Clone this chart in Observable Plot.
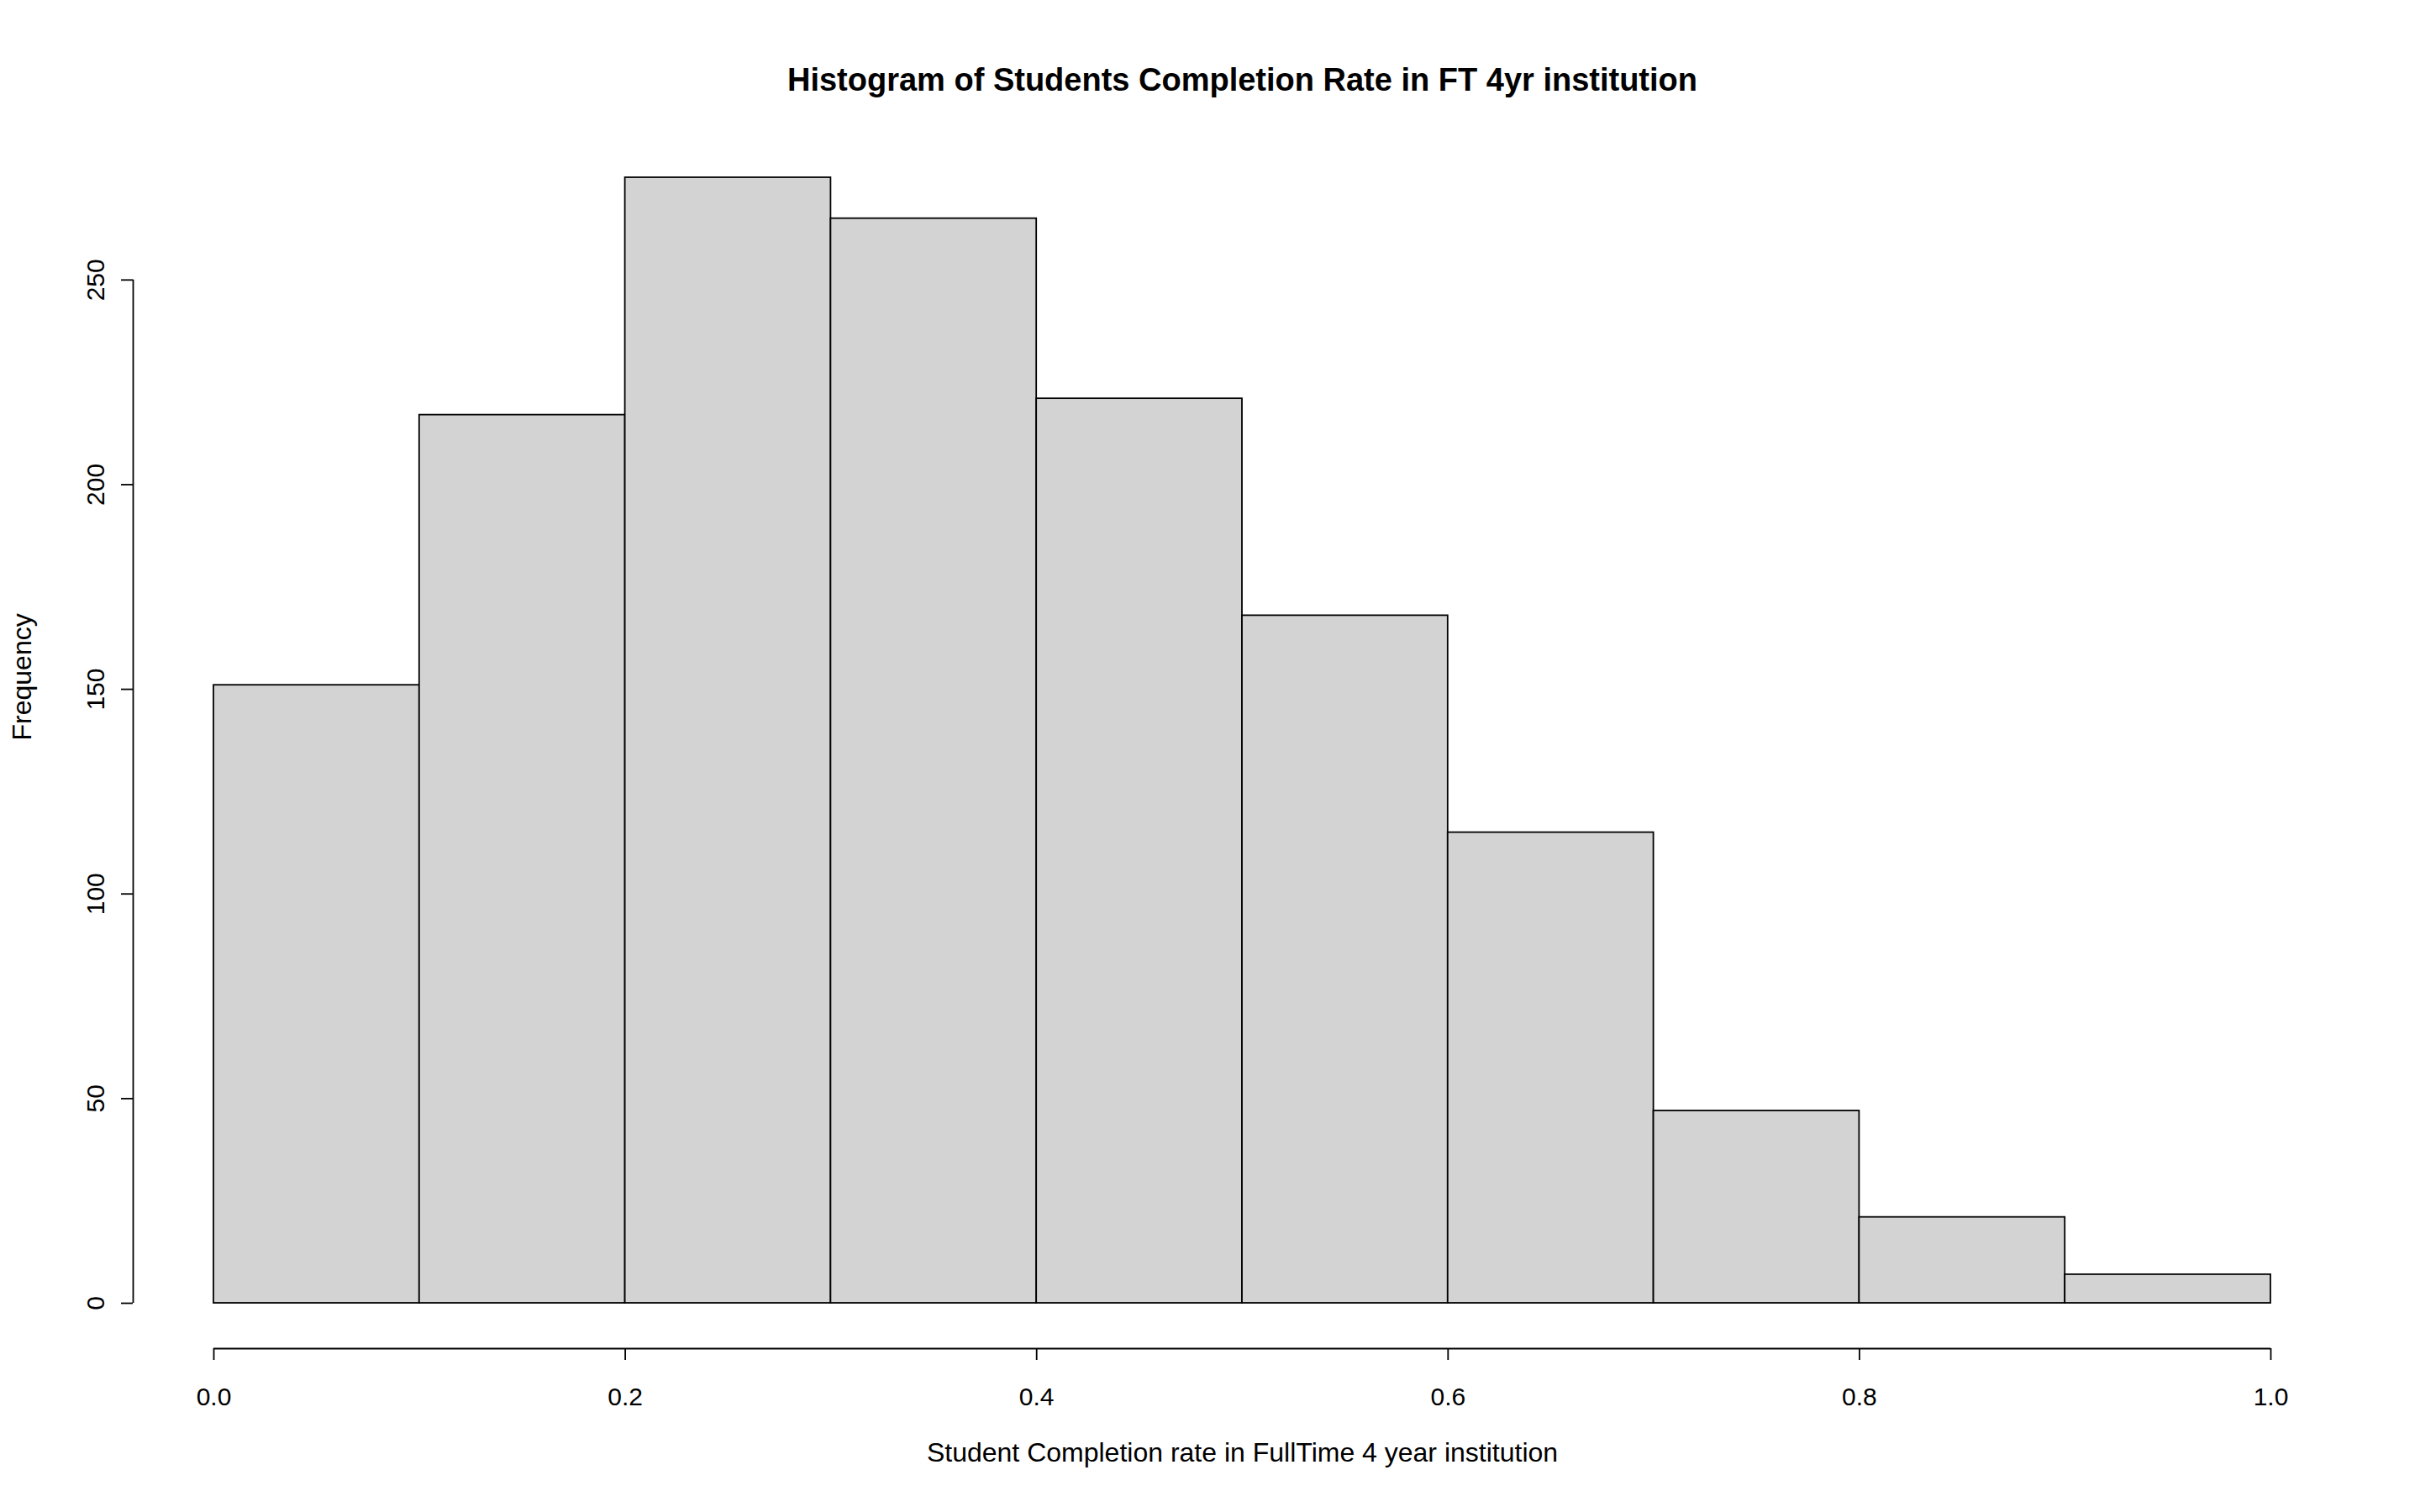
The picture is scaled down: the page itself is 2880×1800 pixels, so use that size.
<!DOCTYPE html>
<html>
<head>
<meta charset="utf-8">
<script src="https://cdn.jsdelivr.net/npm/d3@7"></script>
<script src="https://cdn.jsdelivr.net/npm/@observablehq/plot@0.6"></script>
<style>body{margin:0;background:#fff}</style>
</head>
<body>
<div id="chart"></div>
<script>
// bin edges and counts
const binStarts = [0, 0.1, 0.2, 0.3, 0.4, 0.5, 0.6, 0.7, 0.8, 0.9];
const counts = [151, 217, 275, 265, 221, 168, 115, 47, 21, 7];
const xTicks = [0, 0.2, 0.4, 0.6, 0.8, 1.0];
const yTicks = [0, 50, 100, 150, 200, 250];

const bins = binStarts.map((s, i) => ({x1: s, x2: +(s + 0.1).toFixed(1), count: counts[i]}));
const font = "Liberation Sans, Arial, sans-serif";

const chart = Plot.plot({
  width: 2880,
  height: 1800,
  marginLeft: 254,
  marginRight: 178,
  marginTop: 211,
  marginBottom: 249,
  style: {fontFamily: font, background: "white"},
  x: {domain: [0, 1]},
  y: {domain: [0, 275]},
  marks: [
    Plot.rectY(bins, {x1: "x1", x2: "x2", y: "count", fill: "#d3d3d3", stroke: "black", strokeWidth: 1.8}),
    // y axis, offset left like base R
    Plot.ruleX([0], {y1: 0, y2: 250, dx: -96, strokeWidth: 1.8}),
    Plot.axisY({ticks: yTicks, tickFormat: () => "", dx: -96, tickSize: 14, strokeWidth: 1.8, label: null}),
    Plot.text(yTicks, {x: 0, y: d => d, text: d => String(d), rotate: -90, dx: -140, fontSize: 30}),
    // x axis, offset below
    Plot.ruleY([0], {x1: 0, x2: 1, dy: 54, strokeWidth: 1.8}),
    Plot.axisX({ticks: xTicks, tickFormat: () => "", dy: 54, tickSize: 14, strokeWidth: 1.8, label: null}),
    Plot.text(xTicks, {x: d => d, y: 0, text: d => d.toFixed(1), dy: 112, fontSize: 30}),
    Plot.text(["Student Completion rate in FullTime 4 year institution"], {frameAnchor: "bottom", dy: 188, fontSize: 32}),
    Plot.text(["Frequency"], {frameAnchor: "left", dx: -228, rotate: -90, fontSize: 32}),
    Plot.text(["Histogram of Students Completion Rate in FT 4yr institution"], {frameAnchor: "top", dy: -130, fontSize: 38, fontWeight: "bold"})
  ]
});

d3.select("#chart").append(() => chart);
</script>
</body>
</html>
